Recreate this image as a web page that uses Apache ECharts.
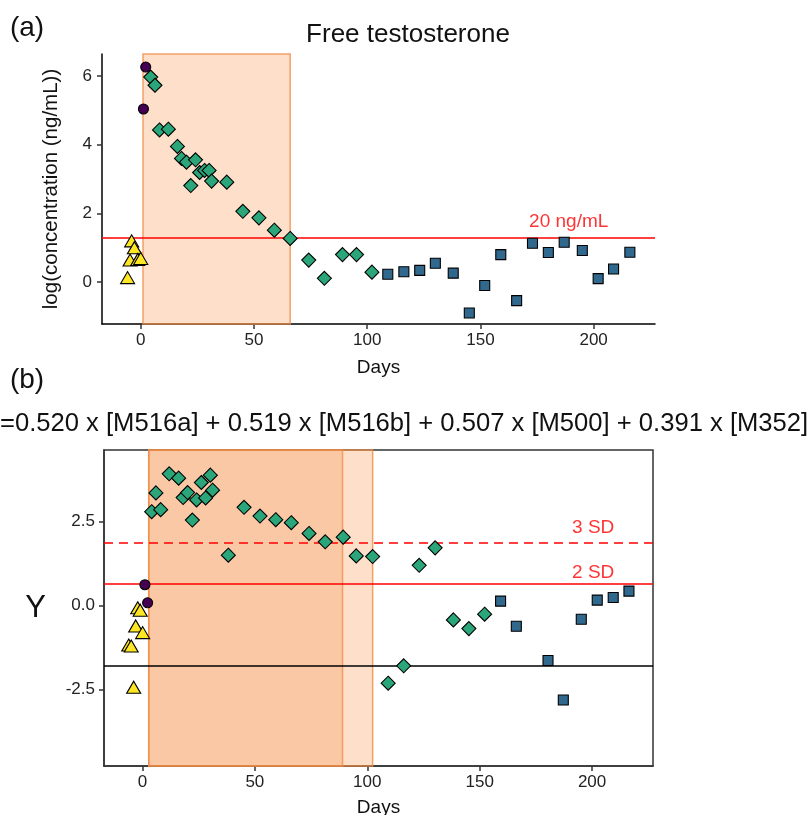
<!DOCTYPE html>
<html>
<head>
<meta charset="utf-8">
<script src="https://cdn.jsdelivr.net/npm/echarts@6/dist/echarts.min.js"></script>
<style>html,body{margin:0;padding:0;background:#fff}#c{width:811px;height:815px}</style>
</head>
<body>
<div id="c"></div>
<script>
// ---------- data ----------
const xTicks = [0, 50, 100, 150, 200];
const aYTicks = [0, 2, 4, 6];
const bYTicks = [-2.5, 0, 2.5];

// Panel (a): Free testosterone
const aPreDays = [-5.8, -4.7, -4.0, -2.8, -1.3, 0.0];
const aPreVals = [0.13, 0.64, 1.20, 1.00, 0.66, 0.69];
const aDoseDays = [1.2, 2.2];
const aDoseVals = [5.04, 6.26];
const aTreatDays = [4.4, 6.3, 8.3, 12.2, 16.2, 18.0, 20.2, 22.1, 24.2, 26.0, 28.2, 30.2, 31.3, 38.0, 45.1, 52.2, 59.0, 66.0, 74.2, 81.1, 89.1, 95.3, 102.1];
const aTreatVals = [5.97, 5.73, 4.43, 4.45, 3.95, 3.60, 3.49, 2.81, 3.56, 3.19, 3.25, 3.25, 2.94, 2.91, 2.06, 1.87, 1.51, 1.27, 0.64, 0.11, 0.80, 0.80, 0.29];
const aPostDays = [109.1, 116.2, 123.2, 130.1, 138.0, 145.1, 151.9, 159.0, 166.0, 173.0, 180.0, 187.0, 195.0, 202.0, 208.8, 216.0];
const aPostVals = [0.23, 0.30, 0.34, 0.55, 0.26, -0.90, -0.10, 0.80, -0.54, 1.13, 0.86, 1.16, 0.92, 0.10, 0.38, 0.87];
const aThreshold = 1.301;          // log10(20 ng/mL)
const aShade = [1.0, 66.0];

// Panel (b): Y score
const bPreDays = [-6.1, -5.0, -3.9, -3.0, -2.1, -1.0, 0.1];
const bPreVals = [-1.18, -1.21, -2.44, -0.61, -0.07, -0.14, -0.81];
const bDoseDays = [1.1, 2.3];
const bDoseVals = [0.62, 0.08];
const bTreatDays = [4.1, 6.0, 8.1, 11.9, 16.1, 18.1, 20.1, 22.2, 24.1, 26.2, 28.1, 30.2, 31.2, 38.2, 45.2, 52.3, 59.3, 66.2, 74.1, 81.3, 89.3, 95.1, 102.4, 109.3, 116.2, 123.1, 130.2, 138.3, 145.2, 152.2];
const bTreatVals = [2.80, 3.36, 2.86, 3.93, 3.80, 3.22, 3.37, 2.55, 3.15, 3.67, 3.21, 3.89, 3.44, 1.50, 2.93, 2.67, 2.56, 2.47, 2.15, 1.90, 2.04, 1.48, 1.46, -2.32, -1.80, 1.20, 1.72, -0.43, -0.69, -0.26];
const bPostDays = [159.3, 166.3, 180.4, 187.2, 195.2, 202.3, 209.4, 216.4];
const bPostVals = [0.13, -0.62, -1.64, -2.82, -0.41, 0.16, 0.24, 0.43];
const bMean = -1.80;
const b2SD = 0.64;
const b3SD = 1.86;
const bShadeInner = [2.8, 89.0];
const bShadeOuter = [2.8, 102.4];

// ---------- chart ----------
const FONT = '"Liberation Sans", Arial, sans-serif';
const pairs = (xs, ys) => xs.map((x, i) => [x, ys[i]]);
const shadeFill = 'rgba(250,150,80,0.30)';
const shadeBorder = 'rgba(240,140,70,0.8)';

function xAxisDef(idx) {
  return {
    gridIndex: idx, type: 'value', min: -17.1, max: 227.1,
    name: 'Days', nameLocation: 'middle', nameGap: idx === 0 ? 34 : 32,
    nameTextStyle: { fontSize: 19, color: '#111', fontFamily: FONT },
    axisLine: { show: true, onZero: false, lineStyle: { color: idx === 0 ? '#000' : '#333', width: 1.5 } },
    axisTick: { show: true, length: 5, customValues: xTicks, lineStyle: { color: '#333', width: 1.5 } },
    axisLabel: { customValues: xTicks, margin: 8, fontSize: 17, color: '#222', fontFamily: FONT },
    splitLine: { show: false }
  };
}
function scatter(xi, data, symbol, size, color) {
  return {
    type: 'scatter', xAxisIndex: xi, yAxisIndex: xi, z: 5,
    symbol: symbol, symbolSize: size, data: data,
    itemStyle: { color: color, borderColor: '#000', borderWidth: 1.1, opacity: 1 },
    emphasis: { disabled: true }
  };
}

const chart = echarts.init(document.getElementById('c'), null, { renderer: 'canvas' });
chart.setOption({
  animation: false,
  backgroundColor: '#fff',
  textStyle: { fontFamily: FONT },
  grid: [
    { left: 102, right: 156, top: 54, bottom: 491, show: false, outerBoundsMode: 'none', containLabel: false },
    { left: 104, right: 158, top: 450, bottom: 49, show: true, borderColor: '#333', borderWidth: 1.5, backgroundColor: 'transparent', outerBoundsMode: 'none', containLabel: false }
  ],
  xAxis: [xAxisDef(0), xAxisDef(1)],
  yAxis: [
    {
      gridIndex: 0, type: 'value', min: -1.22, max: 6.64,
      name: 'log(concentration (ng/mL))', nameLocation: 'middle', nameGap: 40, nameRotate: 90,
      nameTextStyle: { fontSize: 20.5, color: '#111', fontFamily: FONT },
      axisLine: { show: true, onZero: false, lineStyle: { color: '#000', width: 1.5 } },
      axisTick: { show: true, length: 5, customValues: aYTicks, lineStyle: { color: '#333', width: 1.5 } },
      axisLabel: { customValues: aYTicks, margin: 10, fontSize: 17, color: '#222', fontFamily: FONT },
      splitLine: { show: false }
    },
    {
      gridIndex: 1, type: 'value', min: -4.79, max: 4.64,
      name: 'Y', nameLocation: 'middle', nameGap: 58, nameRotate: 0,
      nameTextStyle: { fontSize: 31, color: '#111', fontFamily: FONT },
      axisLine: { show: true, onZero: false, lineStyle: { color: '#333', width: 1.5 } },
      axisTick: { show: true, length: 5, customValues: bYTicks, lineStyle: { color: '#333', width: 1.5 } },
      axisLabel: { customValues: bYTicks, margin: 9, fontSize: 17, color: '#222', fontFamily: FONT,
        formatter: v => v.toFixed(1) },
      splitLine: { show: false }
    }
  ],
  graphic: [
    { type: 'text', x: 27, y: 28, style: { text: '(a)', align: 'center', verticalAlign: 'middle', fontSize: 28, fontFamily: FONT, fill: '#111' } },
    { type: 'text', x: 27, y: 380, style: { text: '(b)', align: 'center', verticalAlign: 'middle', fontSize: 28, fontFamily: FONT, fill: '#111' } },
    { type: 'text', x: 408, y: 35, style: { text: 'Free testosterone', align: 'center', verticalAlign: 'middle', fontSize: 26, fontFamily: FONT, fill: '#111' } },
    { type: 'text', x: 0, y: 424, style: { text: '=0.520 x [M516a] + 0.519 x [M516b] + 0.507 x [M500] + 0.391 x [M352]', align: 'left', verticalAlign: 'middle', fontSize: 25.6, fontFamily: FONT, fill: '#111' } }
  ],
  series: [
    // shading panel a
    { type: 'line', xAxisIndex: 0, yAxisIndex: 0, data: [], z: 1, silent: true,
      markArea: { silent: true, itemStyle: { color: shadeFill, borderColor: shadeBorder, borderWidth: 1.5 },
        data: [[{ xAxis: aShade[0] }, { xAxis: aShade[1] }]] } },
    // shading panel b
    { type: 'line', xAxisIndex: 1, yAxisIndex: 1, data: [], z: 1, silent: true,
      markArea: { silent: true, itemStyle: { color: shadeFill, borderColor: shadeBorder, borderWidth: 1.5 },
        data: [[{ xAxis: bShadeInner[0] }, { xAxis: bShadeInner[1] }], [{ xAxis: bShadeOuter[0] }, { xAxis: bShadeOuter[1] }]] } },
    // reference lines panel a
    { type: 'line', xAxisIndex: 0, yAxisIndex: 0, data: [], z: 3, silent: true,
      markLine: { silent: true, symbol: 'none', label: { show: false },
        lineStyle: { color: '#ff0000', width: 1.7, type: 'solid' },
        data: [{ yAxis: aThreshold }] } },
    // reference lines panel b
    { type: 'line', xAxisIndex: 1, yAxisIndex: 1, data: [], z: 3, silent: true,
      markLine: { silent: true, symbol: 'none', label: { show: false },
        data: [
          { yAxis: b3SD, lineStyle: { color: '#ff0000', width: 1.7, type: [9, 6] } },
          { yAxis: b2SD, lineStyle: { color: '#ff0000', width: 1.7, type: 'solid' } },
          { yAxis: bMean, lineStyle: { color: '#000', width: 1.7, type: 'solid' } }
        ] } },
    // reference line labels
    { type: 'scatter', xAxisIndex: 0, yAxisIndex: 0, z: 4, silent: true, symbolSize: 0,
      data: [[189, aThreshold]],
      label: { show: true, position: 'top', distance: 6, formatter: '20 ng/mL', color: '#ff0000', fontSize: 19, fontFamily: FONT } },
    { type: 'scatter', xAxisIndex: 1, yAxisIndex: 1, z: 4, silent: true, symbolSize: 0,
      data: [{ value: [200.5, b3SD], label: { formatter: '3 SD', distance: 6 } }, { value: [200.5, b2SD], label: { formatter: '2 SD', distance: 2 } }],
      label: { show: true, position: 'top', color: '#ff0000', fontSize: 19, fontFamily: FONT } },
    // points panel a
    scatter(0, pairs(aPreDays, aPreVals), 'triangle', [14, 12], '#FDE725'),
    scatter(0, pairs(aDoseDays, aDoseVals), 'circle', 10, '#440154'),
    scatter(0, pairs(aTreatDays, aTreatVals), 'diamond', 14, '#2BA67A'),
    scatter(0, pairs(aPostDays, aPostVals), 'rect', 10, '#31688E'),
    // points panel b
    scatter(1, pairs(bPreDays, bPreVals), 'triangle', [14, 12], '#FDE725'),
    scatter(1, pairs(bDoseDays, bDoseVals), 'circle', 10, '#440154'),
    scatter(1, pairs(bTreatDays, bTreatVals), 'diamond', 14, '#2BA67A'),
    scatter(1, pairs(bPostDays, bPostVals), 'rect', 10, '#31688E')
  ]
});
</script>
</body>
</html>
